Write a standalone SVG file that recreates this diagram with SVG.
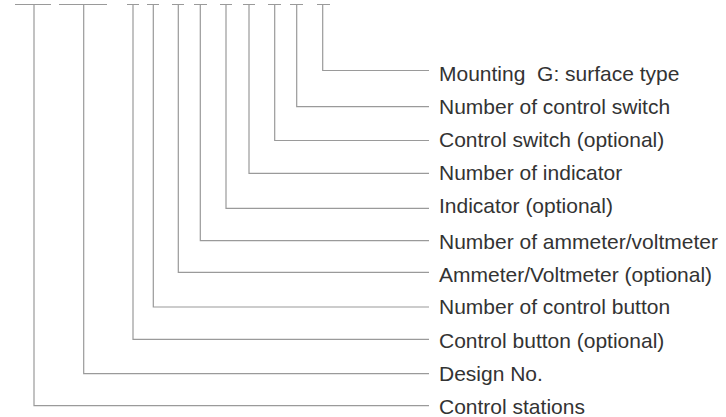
<svg xmlns="http://www.w3.org/2000/svg" width="726" height="417" viewBox="0 0 726 417">
<style>
.ln{fill:none;stroke:#9a9a9a;stroke-width:1.2}
.tx{font-family:"Liberation Sans",Arial,sans-serif;font-size:21px;fill:#333}
</style>
<rect width="726" height="417" fill="#fff"/>
<g id="connectors" class="ln">
<path d="M15 4.5H51M34 4.5V405.7H429"/>
<path d="M59 4.5H107M83.7 4.5V373.7H429"/>
<path d="M127 4.5H139M133 4.5V339.3H429"/>
<path d="M147 4.5H159M153.3 4.5V307H429"/>
<path d="M172 4.5H184M178.3 4.5V272.3H429"/>
<path d="M194 4.5H207M200.3 4.5V240.7H429"/>
<path d="M220 4.5H232M226 4.5V208.3H429"/>
<path d="M243 4.5H255M249 4.5V173.3H429"/>
<path d="M268 4.5H281M274.7 4.5V140.5H429"/>
<path d="M290 4.5H303M296.7 4.5V106.7H429"/>
<path d="M317 4.5H330M322.7 4.5V70.5H429"/>
</g>
<g id="mounting"><text class="tx" x="439" y="81" xml:space="preserve">Mounting  G: surface type</text></g>
<g id="num-control-switch"><text class="tx" x="439" y="114">Number of control switch</text></g>
<g id="control-switch"><text class="tx" x="439" y="147">Control switch (optional)</text></g>
<g id="num-indicator"><text class="tx" x="439" y="180">Number of indicator</text></g>
<g id="indicator"><text class="tx" x="439" y="213">Indicator (optional)</text></g>
<g id="num-ammeter"><text class="tx" x="439" y="249">Number of ammeter/voltmeter</text></g>
<g id="ammeter"><text class="tx" x="439" y="281.5">Ammeter/Voltmeter (optional)</text></g>
<g id="num-control-button"><text class="tx" x="439" y="314">Number of control button</text></g>
<g id="control-button"><text class="tx" x="439" y="347.5">Control button (optional)</text></g>
<g id="design-no"><text class="tx" x="439" y="381">Design No.</text></g>
<g id="control-stations"><text class="tx" x="439" y="414">Control stations</text></g>
</svg>
